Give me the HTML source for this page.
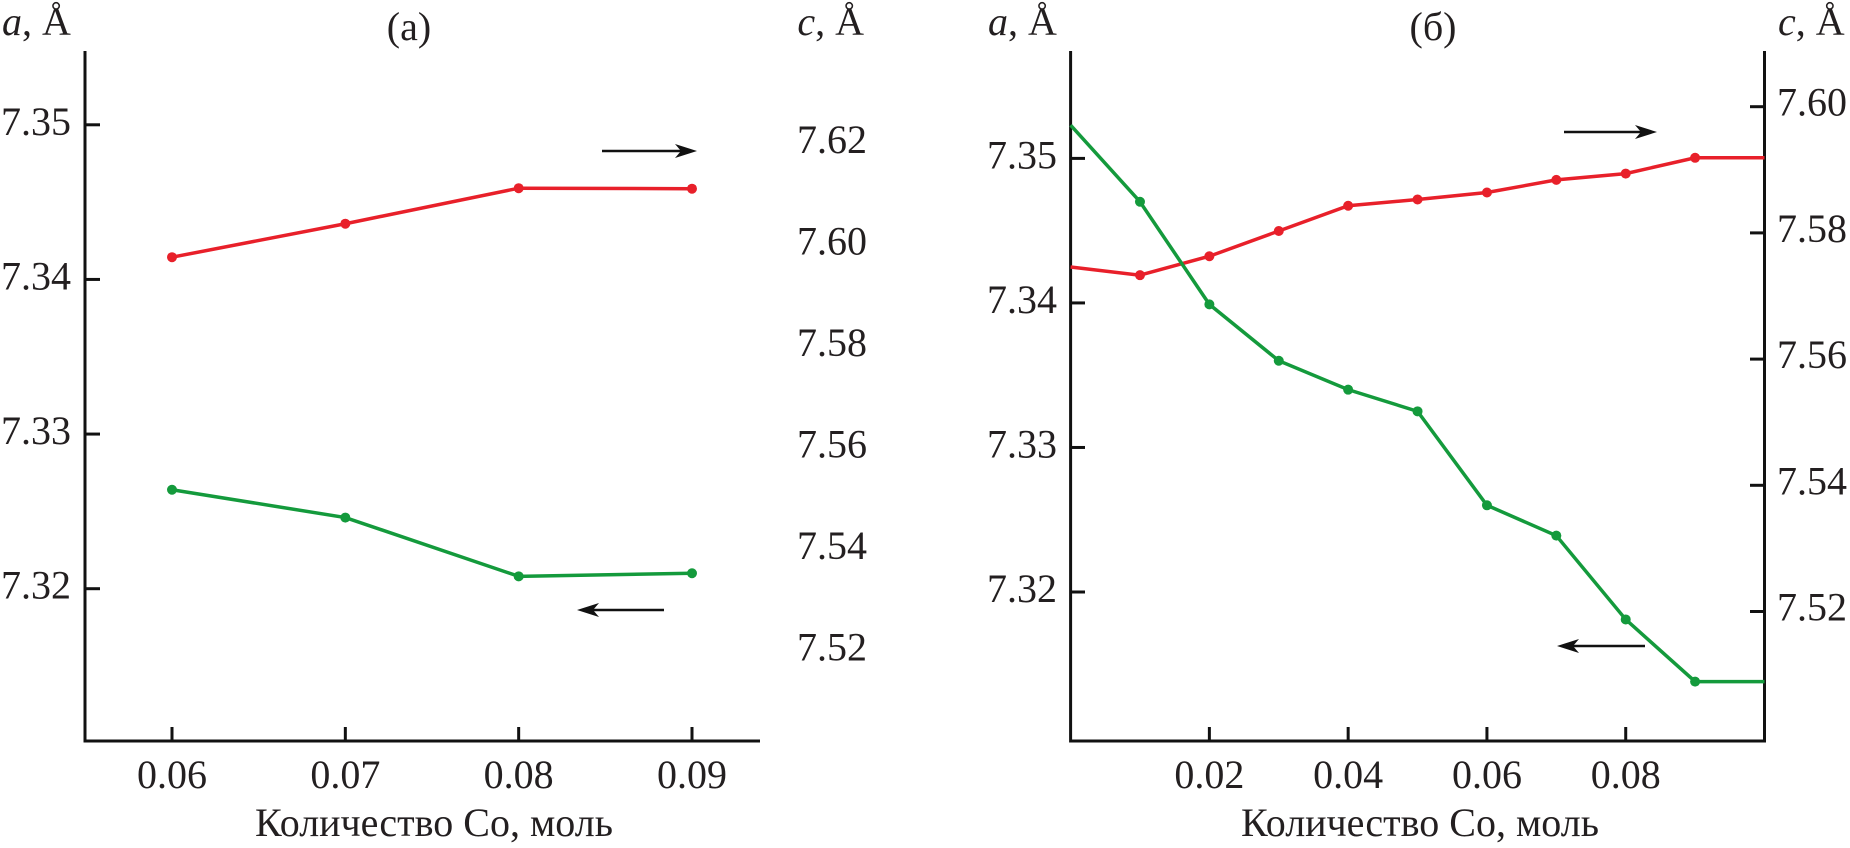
<!DOCTYPE html>
<html><head><meta charset="utf-8">
<style>
html,body{margin:0;padding:0;background:#fff;}
svg{display:block;}
svg text{font-family:"Liberation Serif","DejaVu Serif","Times New Roman",serif;}
</style></head>
<body>
<svg id="chart" width="1850" height="848" viewBox="0 0 1850 848" xmlns="http://www.w3.org/2000/svg" font-family="'Liberation Serif', 'DejaVu Serif', serif"></svg>
<script>
// Panel (a)
const xA = [0.06, 0.07, 0.08, 0.09];
const cA = [7.5971, 7.6037, 7.6107, 7.6106];
const aA = [7.3264, 7.3246, 7.3208, 7.3210];
const xTicksA = [0.06, 0.07, 0.08, 0.09];
const aTicksA = [7.32, 7.33, 7.34, 7.35];
const cTicksA = [7.52, 7.54, 7.56, 7.58, 7.60, 7.62];
// Panel (b)
const xB = [0, 0.01, 0.02, 0.03, 0.04, 0.05, 0.06, 0.07, 0.08, 0.09, 0.1];
const cB = [7.5746, 7.5733, 7.5763, 7.5803, 7.5843, 7.5853, 7.5864, 7.5884, 7.5894, 7.5919, 7.5919];
const aB = [7.3523, 7.3470, 7.3399, 7.3360, 7.3340, 7.3325, 7.3260, 7.3239, 7.3181, 7.3138, 7.3138];
const markB = [false, true, true, true, true, true, true, true, true, true, false];
const xTicksB = [0.02, 0.04, 0.06, 0.08];
const aTicksB = [7.32, 7.33, 7.34, 7.35];
const cTicksB = [7.52, 7.54, 7.56, 7.58, 7.60];

const NS = "http://www.w3.org/2000/svg";
const FONT = "Liberation Serif, DejaVu Serif, serif";
const svg = document.getElementById('chart');
function mk(tag, attrs, parent, text){
  const e = document.createElementNS(NS, tag);
  for (const k in attrs) e.setAttribute(k, attrs[k]);
  if (tag === 'text') e.setAttribute('font-family', FONT);
  if (text !== undefined) e.textContent = text;
  (parent || svg).appendChild(e);
  return e;
}
function lin(d0, d1, r0, r1){ return v => r0 + (v - d0) / (d1 - d0) * (r1 - r0); }

const RED = "#e8202a", GREEN = "#149a3c", TXT = "#231f20";

function arrow(x1, x2, y, g, name){
  const gg = mk('g', {}, g);
  
  
  const dir = x2 > x1 ? 1 : -1;
  mk('line', {x1: x1, x2: x2 - dir*10, y1: y, y2: y, stroke: '#111', 'stroke-width': 2.5}, gg);
  mk('path', {d: `M${x2} ${y} L${x2 - dir*22} ${y-7} L${x2 - dir*16} ${y} L${x2 - dir*22} ${y+7} Z`, fill: '#111'}, gg);
}

// ---------- Panel (a) ----------
const gA = mk('g', {});


const sxA = lin(0.06, 0.09, 172, 692);
const syaA = lin(7.32, 7.35, 588.7, 124.8);
const sycA = lin(7.60, 7.62, 242.5, 141);

let e;
e = mk('path', {d: 'M85 51 V741 H760', fill: 'none', stroke: '#111', 'stroke-width': 3}, gA);


aTicksA.forEach(v => {
  const y = syaA(v);
  mk('line', {x1: 85, x2: 100, y1: y, y2: y, stroke: '#111', 'stroke-width': 3}, gA);
  e = mk('text', {x: 71, y: y + 10, 'font-size': 40, 'text-anchor': 'end', fill: TXT}, gA, v.toFixed(2));
  
  
});
cTicksA.forEach(v => {
  const y = sycA(v);
  e = mk('text', {x: 867, y: y + 12, 'font-size': 40, 'text-anchor': 'end', fill: TXT}, gA, v.toFixed(2));
  
  
});
xTicksA.forEach(v => {
  const x = sxA(v);
  mk('line', {x1: x, x2: x, y1: 741, y2: 727, stroke: '#111', 'stroke-width': 3}, gA);
  e = mk('text', {x: x, y: 788, 'font-size': 40, 'text-anchor': 'middle', fill: TXT}, gA, v.toFixed(2));
  
  
});
e = mk('path', {d: xA.map((v,i) => (i ? 'L' : 'M') + sxA(v) + ' ' + sycA(cA[i])).join(' '), fill: 'none', stroke: RED, 'stroke-width': 3.5}, gA);


xA.forEach((v,i) => {
  const c = mk('circle', {cx: sxA(v), cy: sycA(cA[i]), r: 5, fill: RED}, gA);
  
  
});
e = mk('path', {d: xA.map((v,i) => (i ? 'L' : 'M') + sxA(v) + ' ' + syaA(aA[i])).join(' '), fill: 'none', stroke: GREEN, 'stroke-width': 3.5}, gA);


xA.forEach((v,i) => {
  const c = mk('circle', {cx: sxA(v), cy: syaA(aA[i]), r: 5, fill: GREEN}, gA);
  
  
});
arrow(602, 697, 151, gA, 'arrow-right-a');
arrow(664, 577, 610, gA, 'arrow-left-a');

e = mk('text', {x: 2, y: 35, 'font-size': 40, fill: TXT}, gA);


mk('tspan', {'font-style': 'italic'}, e, 'a');
mk('tspan', {}, e, ', Å');
e = mk('text', {x: 864, y: 35, 'font-size': 40, 'text-anchor': 'end', fill: TXT}, gA);


mk('tspan', {'font-style': 'italic'}, e, 'c');
mk('tspan', {}, e, ', Å');
e = mk('text', {x: 409, y: 40, 'font-size': 40, 'text-anchor': 'middle', fill: TXT}, gA, '(a)');


e = mk('text', {x: 434, y: 836, 'font-size': 40, 'text-anchor': 'middle', fill: TXT}, gA, 'Количество Co, моль');



// ---------- Panel (b) ----------
const gB = mk('g', {});


const sxB = lin(0, 0.1, 1070.6, 1764.5);
const syaB = lin(7.32, 7.35, 592, 158.4);
const sycB = lin(7.52, 7.60, 611.5, 106.7);

e = mk('path', {d: 'M1070.6 51 V741 H1764.5 V51', fill: 'none', stroke: '#111', 'stroke-width': 3}, gB);


aTicksB.forEach(v => {
  const y = syaB(v);
  mk('line', {x1: 1070.6, x2: 1085, y1: y, y2: y, stroke: '#111', 'stroke-width': 3}, gB);
  e = mk('text', {x: 1057, y: y + 10, 'font-size': 40, 'text-anchor': 'end', fill: TXT}, gB, v.toFixed(2));
  
  
});
cTicksB.forEach(v => {
  const y = sycB(v);
  mk('line', {x1: 1764.5, x2: 1750, y1: y, y2: y, stroke: '#111', 'stroke-width': 3}, gB);
  e = mk('text', {x: 1777, y: y + 9, 'font-size': 40, fill: TXT}, gB, v.toFixed(2));
  
  
});
xTicksB.forEach(v => {
  const x = sxB(v);
  mk('line', {x1: x, x2: x, y1: 741, y2: 727, stroke: '#111', 'stroke-width': 3}, gB);
  e = mk('text', {x: x, y: 788, 'font-size': 40, 'text-anchor': 'middle', fill: TXT}, gB, v.toFixed(2));
  
  
});
e = mk('path', {d: xB.map((v,i) => (i ? 'L' : 'M') + sxB(v) + ' ' + sycB(cB[i])).join(' '), fill: 'none', stroke: RED, 'stroke-width': 3.5}, gB);


e = mk('path', {d: xB.map((v,i) => (i ? 'L' : 'M') + sxB(v) + ' ' + syaB(aB[i])).join(' '), fill: 'none', stroke: GREEN, 'stroke-width': 3.5}, gB);


xB.forEach((v,i) => {
  if (!markB[i]) return;
  const c1 = mk('circle', {cx: sxB(v), cy: sycB(cB[i]), r: 5, fill: RED}, gB);
  
  
  const c2 = mk('circle', {cx: sxB(v), cy: syaB(aB[i]), r: 5, fill: GREEN}, gB);
  
  
});
arrow(1564, 1657, 132, gB, 'arrow-right-b');
arrow(1645, 1557, 646, gB, 'arrow-left-b');

e = mk('text', {x: 988, y: 35, 'font-size': 40, fill: TXT}, gB);


mk('tspan', {'font-style': 'italic'}, e, 'a');
mk('tspan', {}, e, ', Å');
e = mk('text', {x: 1778, y: 35, 'font-size': 40, fill: TXT}, gB);


mk('tspan', {'font-style': 'italic'}, e, 'c');
mk('tspan', {}, e, ', Å');
e = mk('text', {x: 1433, y: 40, 'font-size': 40, 'text-anchor': 'middle', fill: TXT}, gB, '(б)');


e = mk('text', {x: 1420, y: 836, 'font-size': 40, 'text-anchor': 'middle', fill: TXT}, gB, 'Количество Co, моль');


</script>
</body></html>
